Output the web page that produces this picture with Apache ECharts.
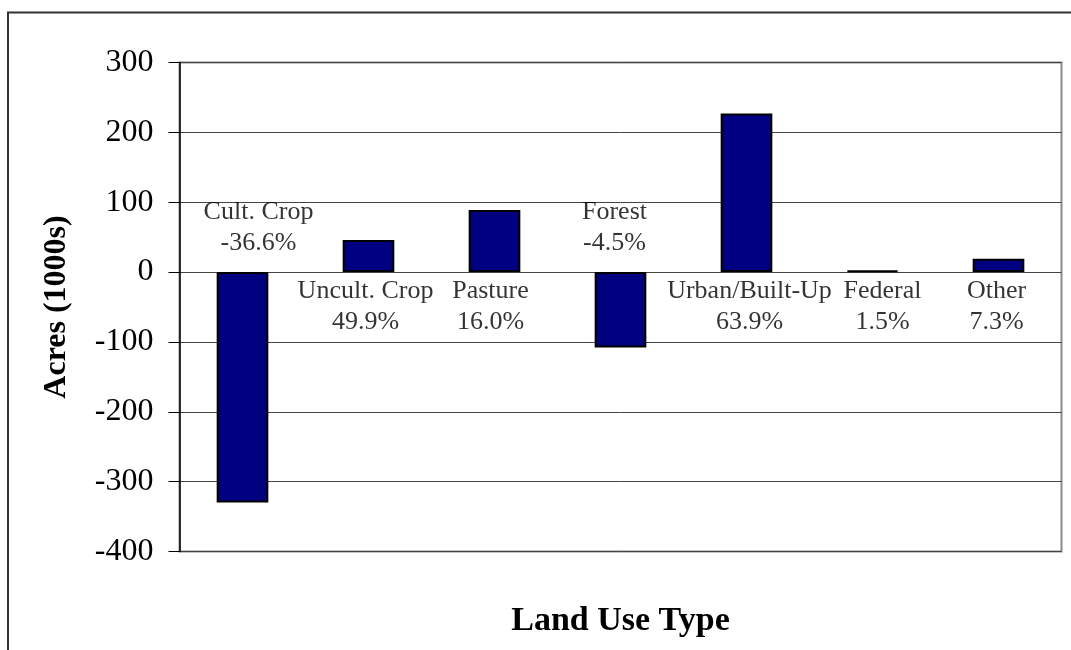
<!DOCTYPE html>
<html>
<head>
<meta charset="utf-8">
<title>Land Use Change</title>
<script src="https://cdn.jsdelivr.net/npm/echarts@6/dist/echarts.min.js"></script>
<style>
  html, body { margin: 0; padding: 0; background: #fff; }
  #chart { width: 1071px; height: 650px; }
</style>
</head>
<body>
<div id="chart"></div>
<script>
// Change in acreage by land use type (thousands of acres)
const categories = ['Cult. Crop', 'Uncult. Crop', 'Pasture', 'Forest', 'Urban/Built-Up', 'Federal', 'Other'];
const acreChange = [-330, 46, 89, -108, 227, 2, 19];
const pctChange = ['-36.6%', '49.9%', '16.0%', '-4.5%', '63.9%', '1.5%', '7.3%'];
const yTicks = { min: -400, max: 300, step: 100 };

// horizontal nudge of each category label (px)
const labelNudge = [16, -3, -4, -6, 3, 10, -2];

const serif = 'Liberation Serif, Times New Roman, serif';

// category name + percent change, anchored at the zero line opposite each bar
const labelPoints = categories.map((c, i) => {
  const neg = acreChange[i] < 0;
  return {
    value: [i, 0],
    label: {
      position: neg ? 'top' : 'bottom',
      distance: neg ? 12 : 3,
      offset: [labelNudge[i], 0]
    }
  };
});

const chart = echarts.init(document.getElementById('chart'), null, { renderer: 'canvas' });
chart.setOption({
  animation: false,
  backgroundColor: '#fff',
  graphic: [{
    type: 'rect',
    z: -10,
    silent: true,
    shape: { x: 8, y: 12.5, width: 1200, height: 800 },
    style: { fill: 'none', stroke: '#333', lineWidth: 2 }
  }],
  grid: {
    left: 179.5, right: 9.5, top: 62.5, bottom: 98.5,
    show: true, borderColor: '#8a8a8a', borderWidth: 2, backgroundColor: '#fff'
  },
  xAxis: {
    type: 'category',
    data: categories,
    axisLine: { show: false, onZero: false },
    axisTick: { show: false },
    axisLabel: { show: false },
    splitLine: { show: false },
    name: 'Land Use Type',
    nameLocation: 'middle',
    nameGap: 53,
    nameTextStyle: { fontFamily: serif, fontSize: 34, fontWeight: 'bold', color: '#000' }
  },
  yAxis: {
    type: 'value',
    min: yTicks.min, max: yTicks.max, interval: yTicks.step,
    axisLine: { show: true, onZero: false, lineStyle: { color: '#000', width: 1.5 } },
    axisTick: { show: true, inside: false, length: 11, lineStyle: { color: '#000', width: 1 } },
    axisLabel: { fontFamily: serif, fontSize: 32, color: '#000', margin: 26 },
    splitLine: { show: true, lineStyle: { color: '#444', width: 1 } },
    name: 'Acres (1000s)',
    nameLocation: 'middle',
    nameRotate: 90,
    nameGap: 107,
    nameTextStyle: { fontFamily: serif, fontSize: 32, fontWeight: 'bold', color: '#000' }
  },
  series: [{
    type: 'bar',
    data: acreChange,
    barWidth: '41%',
    itemStyle: { color: '#000080', borderColor: '#000', borderWidth: 2 }
  }, {
    type: 'scatter',
    silent: true,
    symbolSize: 2,
    itemStyle: { color: 'rgba(0,0,0,0)' },
    data: labelPoints,
    label: {
      show: true,
      formatter: p => categories[p.dataIndex] + '\n' + pctChange[p.dataIndex],
      fontFamily: serif,
      fontSize: 26,
      lineHeight: 31,
      color: '#000',
      align: 'center'
    },
    z: 5
  }]
});
</script>
</body>
</html>
